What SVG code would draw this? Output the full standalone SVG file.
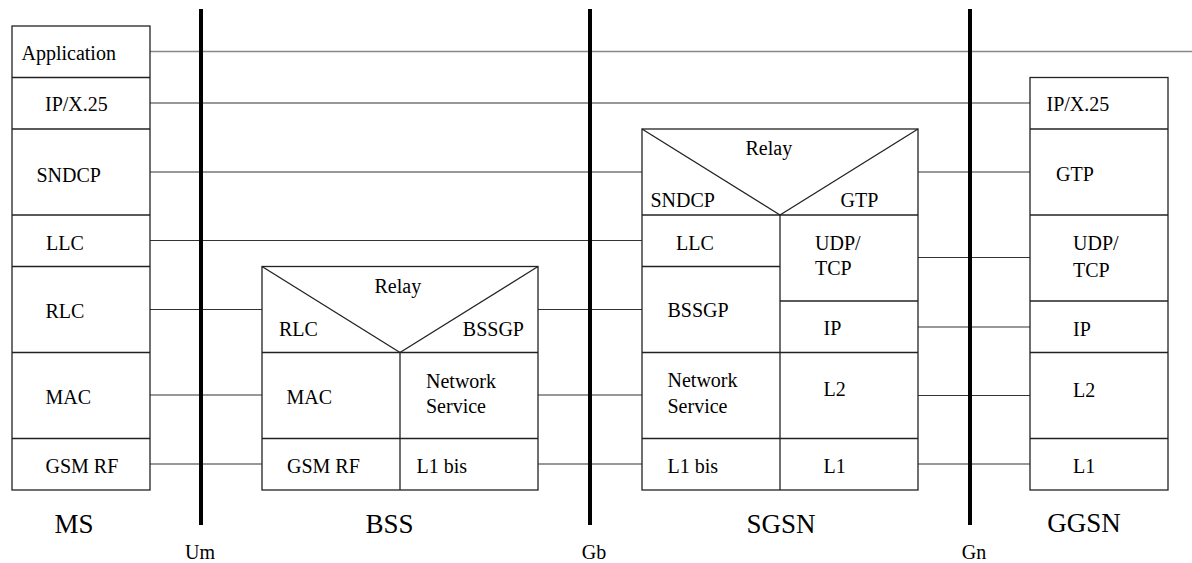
<svg xmlns="http://www.w3.org/2000/svg" width="1192" height="563" viewBox="0 0 1192 563" font-family="'Liberation Serif', 'Times New Roman', 'DejaVu Serif', serif">
<style>
.box{fill:#fff;stroke:#222;stroke-width:1.3}
.ln{stroke:#222;stroke-width:1.3;fill:none}
.cn{stroke:#333;stroke-width:1.2;fill:none}
.cg{stroke:#888;stroke-width:1.5;fill:none}
.if{stroke:#000;stroke-width:4;fill:none}
text{font-family:'Liberation Serif','Times New Roman','DejaVu Serif',serif;font-size:20px;fill:#000}
.big{font-size:27px}
.mid{text-anchor:middle}
</style>
<rect x="0" y="0" width="1192" height="563" fill="#fff"/>
<g id="connectors">
<line class="cg" x1="150" y1="51.5" x2="1192" y2="51.5"/>
<line class="cn" x1="150" y1="103" x2="1030" y2="103"/>
<line class="cn" x1="150" y1="172" x2="642" y2="172"/>
<line class="cn" x1="150" y1="240.5" x2="642" y2="240.5"/>
<line class="cn" x1="150" y1="309.5" x2="262" y2="309.5"/>
<line class="cn" x1="150" y1="395" x2="262" y2="395"/>
<line class="cn" x1="150" y1="464" x2="262" y2="464"/>
<line class="cn" x1="538" y1="309.5" x2="642" y2="309.5"/>
<line class="cn" x1="538" y1="395" x2="642" y2="395"/>
<line class="cn" x1="538" y1="464" x2="642" y2="464"/>
<line class="cn" x1="918" y1="172" x2="1030" y2="172"/>
<line class="cn" x1="918" y1="257.5" x2="1030" y2="257.5"/>
<line class="cn" x1="918" y1="327" x2="1030" y2="327"/>
<line class="cn" x1="918" y1="395.5" x2="1030" y2="395.5"/>
<line class="cn" x1="918" y1="464" x2="1030" y2="464"/>
</g>
<g id="interfaces">
<line class="if" x1="201" y1="9" x2="201" y2="525"/>
<line class="if" x1="590" y1="9" x2="590" y2="525"/>
<line class="if" x1="970" y1="9" x2="970" y2="525"/>
<text class="mid" x="200" y="559">Um</text>
<text class="mid" x="594" y="559">Gb</text>
<text class="mid" x="974" y="559">Gn</text>
</g>
<g id="MS">
<rect class="box" x="12" y="26" width="138" height="464"/>
<line class="ln" x1="12" y1="77.5" x2="150" y2="77.5"/>
<line class="ln" x1="12" y1="129" x2="150" y2="129"/>
<line class="ln" x1="12" y1="215" x2="150" y2="215"/>
<line class="ln" x1="12" y1="266.5" x2="150" y2="266.5"/>
<line class="ln" x1="12" y1="352.5" x2="150" y2="352.5"/>
<line class="ln" x1="12" y1="438.5" x2="150" y2="438.5"/>
<text x="21.5" y="60">Application</text>
<text x="45" y="111">IP/X.25</text>
<text x="36.5" y="181.5">SNDCP</text>
<text x="46" y="250">LLC</text>
<text x="45.5" y="318">RLC</text>
<text x="45.5" y="404">MAC</text>
<text x="45.5" y="473">GSM RF</text>
<text class="big mid" x="74" y="533">MS</text>
</g>
<g id="BSS">
<rect class="box" x="262" y="266.5" width="276" height="223.5"/>
<line class="ln" x1="262" y1="266.5" x2="400" y2="352.5"/>
<line class="ln" x1="538" y1="266.5" x2="400" y2="352.5"/>
<line class="ln" x1="262" y1="352.5" x2="538" y2="352.5"/>
<line class="ln" x1="262" y1="438.5" x2="538" y2="438.5"/>
<line class="ln" x1="400" y1="352.5" x2="400" y2="490"/>
<text x="374.5" y="292.5">Relay</text>
<text x="279" y="336">RLC</text>
<text x="524" y="336" text-anchor="end">BSSGP</text>
<text x="286.5" y="404">MAC</text>
<text x="426" y="388">Network</text>
<text x="426" y="413">Service</text>
<text x="287" y="473">GSM RF</text>
<text x="416.5" y="473">L1 bis</text>
<text class="big mid" x="389.5" y="533">BSS</text>
</g>
<g id="SGSN">
<rect class="box" x="642" y="129" width="276" height="361"/>
<line class="ln" x1="642" y1="129" x2="780" y2="215"/>
<line class="ln" x1="918" y1="129" x2="780" y2="215"/>
<line class="ln" x1="642" y1="215" x2="918" y2="215"/>
<line class="ln" x1="780" y1="215" x2="780" y2="490"/>
<line class="ln" x1="642" y1="266.5" x2="780" y2="266.5"/>
<line class="ln" x1="780" y1="301" x2="918" y2="301"/>
<line class="ln" x1="642" y1="352.5" x2="918" y2="352.5"/>
<line class="ln" x1="642" y1="438.5" x2="918" y2="438.5"/>
<text x="745.5" y="155">Relay</text>
<text x="650.5" y="207">SNDCP</text>
<text x="840.5" y="207">GTP</text>
<text x="676" y="250">LLC</text>
<text x="815" y="250">UDP/</text>
<text x="815" y="275">TCP</text>
<text x="667.5" y="317">BSSGP</text>
<text x="823.5" y="335">IP</text>
<text x="667.5" y="387">Network</text>
<text x="667.5" y="412.5">Service</text>
<text x="823.5" y="396">L2</text>
<text x="667.5" y="473">L1 bis</text>
<text x="823.5" y="473">L1</text>
<text class="big mid" x="781" y="533">SGSN</text>
</g>
<g id="GGSN">
<rect class="box" x="1030" y="77.5" width="138" height="412.5"/>
<line class="ln" x1="1030" y1="129" x2="1168" y2="129"/>
<line class="ln" x1="1030" y1="215" x2="1168" y2="215"/>
<line class="ln" x1="1030" y1="301" x2="1168" y2="301"/>
<line class="ln" x1="1030" y1="352.5" x2="1168" y2="352.5"/>
<line class="ln" x1="1030" y1="438.5" x2="1168" y2="438.5"/>
<text x="1046.5" y="111">IP/X.25</text>
<text x="1056" y="181">GTP</text>
<text x="1073" y="250">UDP/</text>
<text x="1073" y="277">TCP</text>
<text x="1073" y="335.5">IP</text>
<text x="1073" y="396.5">L2</text>
<text x="1073" y="473">L1</text>
<text class="big mid" x="1084" y="532">GGSN</text>
</g>
</svg>
